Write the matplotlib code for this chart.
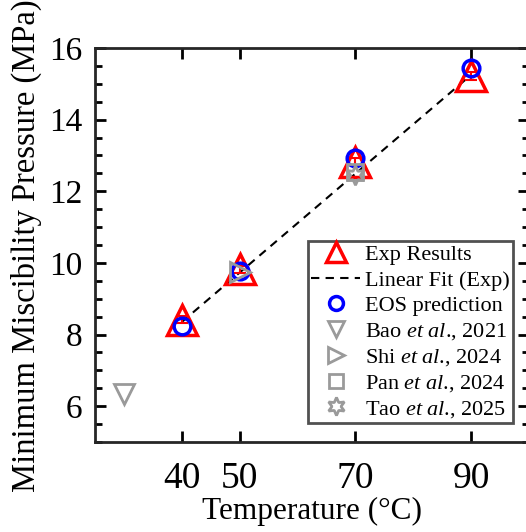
import matplotlib
matplotlib.use("Agg")
import matplotlib.pyplot as plt
from matplotlib.lines import Line2D
from matplotlib.ticker import MultipleLocator

plt.rcParams["font.family"] = ["Liberation Serif", "DejaVu Serif"]
plt.rcParams["mathtext.fontset"] = "custom"
plt.rcParams["mathtext.rm"] = "Liberation Serif"
plt.rcParams["mathtext.it"] = "Liberation Serif:italic"

# ── data ──────────────────────────────────────────────────────────────────
exp_T   = [40, 50, 70, 90]
exp_P   = [8.42, 9.82, 12.82, 15.22]
exp_err = [0.1, 0.1, 0.1, 0.1]

fit_T = [40, 90]
fit_P = [8.35, 15.25]

eos_T = [40, 50, 70, 90]
eos_P = [8.25, 9.77, 12.93, 15.45]

bao_T, bao_P = [30], [6.35]
shi_T, shi_P = [50], [9.75]
pan_T, pan_P = [70], [12.55]
tao_T, tao_P = [70], [12.45]

x_ticks = [40, 50, 70, 90]
y_ticks = [6, 8, 10, 12, 14, 16]

grey = "#9a9a9a"

fig = plt.figure(figsize=(5.26, 5.32), dpi=100)
ax = fig.add_axes([95 / 526, (532 - 442) / 532, (529 - 95) / 526, (442 - 48) / 532])

ax.plot(fit_T, fit_P, "k--", lw=1.5, dashes=(4, 3), zorder=2)
ax.errorbar(exp_T, exp_P, yerr=exp_err, fmt="none", ecolor="red",
            elinewidth=1.5, capsize=4, capthick=1.5, zorder=3)
ax.plot(exp_T, exp_P, "^", ms=22, mfc="none", mec="red", mew=2.5, zorder=3)
ax.plot(eos_T, eos_P, "o", ms=12, mfc="none", mec="blue", mew=2.5, zorder=4)
ax.plot(bao_T, bao_P, "v", ms=14, mfc="none", mec=grey, mew=2, zorder=5)
ax.plot(shi_T, shi_P, ">", ms=14, mfc="none", mec=grey, mew=2, zorder=5)
ax.plot(pan_T, pan_P, "s", ms=11, mfc="none", mec=grey, mew=2, zorder=5)
ax.plot(tao_T, tao_P, marker=(6, 1, 0), ls="none", ms=14, mfc="none",
        mec=grey, mew=2, zorder=5)

ax.set_xlim(25, 100)
ax.set_ylim(5, 16)
ax.set_xticks(x_ticks)
ax.set_yticks(y_ticks)
ax.yaxis.set_minor_locator(MultipleLocator(0.5))
ax.tick_params(which="both", direction="in", top=True, right=True, width=2)
ax.tick_params(which="major", length=8)
ax.tick_params(which="minor", length=5)
ax.tick_params(axis="x", labelsize=27, pad=14)
ax.tick_params(axis="y", labelsize=24, pad=9)
for sp in ax.spines.values():
    sp.set_linewidth(2)
    sp.set_color("#262626")

ax.set_xlabel("Temperature (°C)", fontsize=22.5, labelpad=1)
ax.set_ylabel("Minimum Miscibility Pressure (MPa)", fontsize=23.5)
ax.yaxis.set_label_coords(-0.122, 0.497)

handles = [
    Line2D([], [], ls="none", marker="^", ms=15, mfc="none", mec="red", mew=2.5),
    Line2D([], [], color="k", ls="--", lw=1.5, dashes=(4, 3)),
    Line2D([], [], ls="none", marker="o", ms=10, mfc="none", mec="blue", mew=2.5),
    Line2D([], [], ls="none", marker="v", ms=12, mfc="none", mec=grey, mew=2),
    Line2D([], [], ls="none", marker=">", ms=12, mfc="none", mec=grey, mew=2),
    Line2D([], [], ls="none", marker="s", ms=10, mfc="none", mec=grey, mew=2),
    Line2D([], [], ls="none", marker=(6, 1, 0), ms=13, mfc="none", mec=grey, mew=2),
]
labels = [
    "Exp Results",
    "Linear Fit (Exp)",
    "EOS prediction",
    r"Bao $\mathit{et\ al}$., 2021",
    r"Shi $\mathit{et\ al}$., 2024",
    r"Pan $\mathit{et\ al}$., 2024",
    r"Tao $\mathit{et\ al}$., 2025",
]
leg = fig.legend(handles, labels, loc="lower left",
                 bbox_to_anchor=(308 / 526, (532 - 423) / 532),
                 fontsize=16, frameon=True, fancybox=False,
                 edgecolor="#262626", handlelength=2.2, handletextpad=0.2,
                 borderpad=0.15, labelspacing=0.22, borderaxespad=0)
leg.get_frame().set_linewidth(2)

fig.savefig("out.png", dpi=100)
